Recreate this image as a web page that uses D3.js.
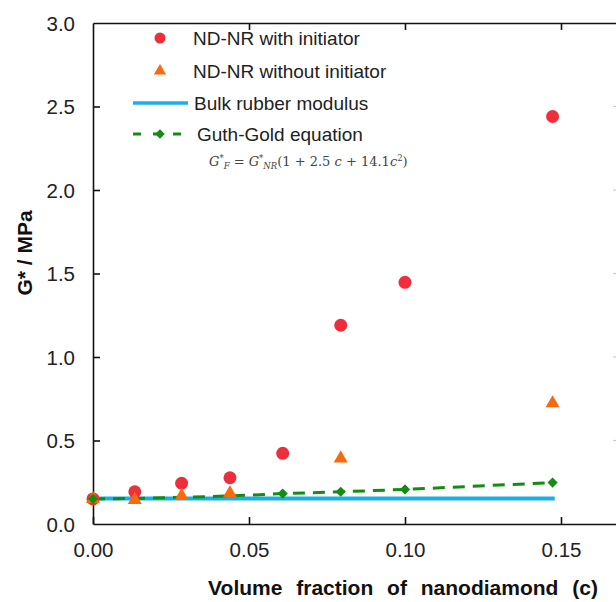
<!DOCTYPE html>
<html><head><meta charset="utf-8">
<script src="https://cdn.jsdelivr.net/npm/d3@7"></script>
<style>body{margin:0;background:#fff;} svg{display:block;font-family:"Liberation Sans",Arial,sans-serif;}</style>
</head><body><svg id="c" width="616" height="602"></svg>
<script>
// Data
const xInit = [0, 0.0134, 0.0284, 0.0439, 0.0608, 0.0794, 0.1000, 0.1473];
const gInit = [0.150, 0.193, 0.244, 0.277, 0.423, 1.190, 1.447, 2.440];
const xNoInit = [0, 0.0134, 0.0284, 0.0439, 0.0794, 0.1473];
const gNoInit = [0.150, 0.144, 0.168, 0.184, 0.393, 0.723];
const xGuth = [0, 0.0134, 0.0284, 0.0439, 0.0608, 0.0794, 0.1000, 0.1473];
const gGuth = [0.150, 0.153, 0.160, 0.168, 0.182, 0.193, 0.207, 0.248];
const xBulk = [0, 0.148];
const gBulk = [0.152, 0.152];
const xTicks = [0, 0.05, 0.10, 0.15];
const yTicks = [0, 0.5, 1.0, 1.5, 2.0, 2.5, 3.0];
const legendLabels = ["ND-NR with initiator", "ND-NR without initiator", "Bulk rubber modulus", "Guth-Gold equation"];

const svg = d3.select("#c");
const L = 93, T = 23, B = 524;
const x = d3.scaleLinear().domain([0, 0.17]).range([L, L + 0.17 * 3120]);
const y = d3.scaleLinear().domain([0, 3]).range([B, T]);

const red = "#EE2F3B", orange = "#F86A0A", blue = "#1AAFE6", green = "#128C12";

// Axes
const gx = svg.append("g").attr("transform", `translate(0,${B})`)
  .call(d3.axisBottom(x).tickValues(xTicks).tickSizeInner(-7).tickSizeOuter(0).tickPadding(18).tickFormat(d3.format(".2f")));
const gxt = svg.append("g").attr("transform", `translate(0,${T})`)
  .call(d3.axisTop(x).tickValues(xTicks.slice(1)).tickSizeInner(-7).tickSizeOuter(0).tickFormat(""));
const gy = svg.append("g").attr("transform", `translate(${L},0)`)
  .call(d3.axisLeft(y).tickValues(yTicks).tickSizeInner(-7).tickSizeOuter(0).tickPadding(18).tickFormat(d3.format(".1f")));
[gx, gxt, gy].forEach(g => {
  g.selectAll(".domain").attr("stroke", "#111").attr("stroke-width", 1.6);
  g.selectAll(".tick line").attr("stroke", "#111").attr("stroke-width", 1.6);
  g.selectAll(".tick text").attr("font-size", 20.5).attr("fill", "#222").attr("font-family", "Liberation Sans, Arial, sans-serif");
});
gy.selectAll(".tick line").filter(d => d === 3 || d === 0).remove();
gy.selectAll(".tick text").attr("dy", "0.35em");
// faint right-edge ticks
svg.append("g").selectAll("line").data(yTicks.filter(d => d > 0 && d < 3)).join("line")
  .attr("x1", 613).attr("x2", 616).attr("y1", d => y(d)).attr("y2", d => y(d))
  .attr("stroke", "#ccc").attr("stroke-width", 1.2);

// Bulk line
svg.append("path").datum(xBulk.map((v, i) => [v, gBulk[i]]))
  .attr("d", d3.line().x(d => x(d[0])).y(d => y(d[1])))
  .attr("stroke", blue).attr("stroke-width", 4).attr("fill", "none");

// Guth-Gold dashed line
svg.append("path").datum(xGuth.map((v, i) => [v, gGuth[i]]))
  .attr("d", d3.line().x(d => x(d[0])).y(d => y(d[1])))
  .attr("stroke", green).attr("stroke-width", 3).attr("stroke-dasharray", "12,8").attr("fill", "none");

// Red circles
svg.append("g").selectAll("circle").data(xInit.map((v, i) => [v, gInit[i]])).join("circle")
  .attr("cx", d => x(d[0])).attr("cy", d => y(d[1])).attr("r", 6.5).attr("fill", red);
// Orange triangles
const tri = d3.symbol().type(d3.symbolTriangle).size(85);
svg.append("g").selectAll("path").data(xNoInit.map((v, i) => [v, gNoInit[i]])).join("path")
  .attr("d", tri).attr("transform", d => `translate(${x(d[0])},${y(d[1])})`).attr("fill", orange);
// Green diamonds
const dia = d3.symbol().type(d3.symbolSquare).size(52);
svg.append("g").selectAll("path").data(xGuth.map((v, i) => [v, gGuth[i]]))
  .join("path").filter((d, i) => i === 0 || i >= 4)
  .attr("d", dia).attr("transform", d => `translate(${x(d[0])},${y(d[1])}) rotate(45)`).attr("fill", green);

// Legend
const lg = svg.append("g");
const rows = [38, 71, 103, 134];
lg.append("circle").attr("cx", 160).attr("cy", rows[0]).attr("r", 5.5).attr("fill", red);
lg.append("path").attr("d", d3.symbol().type(d3.symbolTriangle).size(65)).attr("transform", `translate(160,${rows[1]})`).attr("fill", orange);
lg.append("line").attr("x1", 133).attr("x2", 188).attr("y1", rows[2]).attr("y2", rows[2]).attr("stroke", blue).attr("stroke-width", 3.5);
lg.append("line").attr("x1", 133).attr("x2", 188).attr("y1", rows[3]).attr("y2", rows[3]).attr("stroke", green).attr("stroke-width", 3).attr("stroke-dasharray", "8,12");
lg.append("path").attr("d", d3.symbol().type(d3.symbolSquare).size(45)).attr("transform", `translate(160,${rows[3]}) rotate(45)`).attr("fill", green);
const lx = [193, 193, 194, 197];
legendLabels.forEach((t, i) => {
  lg.append("text").attr("x", lx[i]).attr("y", rows[i]).attr("dy", "0.35em")
    .attr("font-size", 19).attr("fill", "#222").text(t);
});
// Formula
const f = lg.append("text").attr("x", 209).attr("y", 166)
  .attr("font-family", "DejaVu Serif, Liberation Serif, serif").attr("font-style", "italic")
  .attr("font-size", 13).attr("fill", "#444");
f.append("tspan").text("G");
f.append("tspan").attr("font-size", 8.5).attr("dy", -5).text("*");
f.append("tspan").attr("font-size", 8.5).attr("dy", 8).text("F");
f.append("tspan").attr("dy", -3).text(" =  G");
f.append("tspan").attr("font-size", 8.5).attr("dy", -5).text("*");
f.append("tspan").attr("font-size", 8.5).attr("dy", 8).text("NR");
f.append("tspan").attr("dy", -3).attr("font-style", "normal").text("(1 + 2.5 ");
f.append("tspan").text("c");
f.append("tspan").attr("font-style", "normal").text(" + 14.1");
f.append("tspan").text("c");
f.append("tspan").attr("font-size", 8.5).attr("dy", -5).attr("font-style", "normal").text("2");
f.append("tspan").attr("dy", 5).attr("font-style", "normal").text(")");

// Axis titles
svg.append("text").attr("transform", "translate(32,253) rotate(-90)").attr("text-anchor", "middle")
  .attr("font-weight", "bold").attr("font-size", 21).attr("fill", "#111").text("G* / MPa");
svg.append("text").attr("x", 403).attr("y", 595).attr("text-anchor", "middle")
  .attr("font-weight", "bold").attr("font-size", 21).attr("word-spacing", 8).attr("fill", "#111")
  .text("Volume fraction of nanodiamond (c)");
</script></body></html>
